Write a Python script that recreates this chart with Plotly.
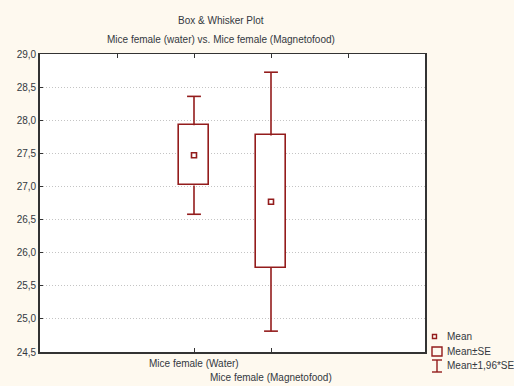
import plotly.graph_objects as go

# ---- data ----
groups = ["Mice female (Water)", "Mice female (Magnetofood)"]
group_pos = [2, 3]
means = [27.47, 26.77]
se = [0.455, 1.0]
ci = [0.89, 1.955]  # 1.96*SE

y_ticks = [24.5, 25.0, 25.5, 26.0, 26.5, 27.0, 27.5, 28.0, 28.5, 29.0]
y_tick_labels = ["24,5", "25,0", "25,5", "26,0", "26,5", "27,0", "27,5", "28,0", "28,5", "29,0"]
legend_labels = ["Mean", "Mean±SE", "Mean±1,96*SE"]

RED = "#931c1c"
BOX_W = 0.39
CAP_W = 0.18
FONT = "Liberation Sans, Arial, sans-serif"
TXT = "#333840"
FS = 10

# plot-area pixel geometry (for paper coordinate helpers)
L, R, T, B = 40, 425, 54, 352


def px(x):
    return (x - L) / (R - L)


def py(y):
    return (B - y) / (B - T)


fig = go.Figure()

# boxes: mean +/- SE
fig.add_trace(go.Bar(
    x=group_pos, y=[2 * s for s in se], base=[m - s for m, s in zip(means, se)],
    width=BOX_W, marker=dict(color="white", line=dict(color=RED, width=1.6)),
    showlegend=False, hoverinfo="skip"))

# whiskers: mean +/- 1.96*SE with caps
wx, wy = [], []
for p, m, s, c in zip(group_pos, means, se, ci):
    wx += [p, p, None, p - CAP_W / 2, p + CAP_W / 2, None,
           p, p, None, p - CAP_W / 2, p + CAP_W / 2, None]
    wy += [m + s, m + c, None, m + c, m + c, None,
           m - s, m - c, None, m - c, m - c, None]
fig.add_trace(go.Scatter(x=wx, y=wy, mode="lines", line=dict(color=RED, width=1.6),
                         showlegend=False, hoverinfo="skip"))

# means
fig.add_trace(go.Scatter(x=group_pos, y=means, mode="markers",
                         marker=dict(symbol="square-open", size=5, color=RED,
                                     line=dict(width=1.6, color=RED)),
                         showlegend=False))

# top axis helper (ticks only)
fig.add_trace(go.Scatter(x=[None], y=[None], xaxis="x2", showlegend=False))

# ---- manual legend (paper coords) ----
shapes = []
lx0, lx1 = px(432), px(442)
shapes.append(dict(type="rect", xref="paper", yref="paper", x0=px(432.5), x1=px(436.5),
                   y0=py(338.5), y1=py(334.5), line=dict(color=RED, width=1.4)))
shapes.append(dict(type="rect", xref="paper", yref="paper", x0=lx0, x1=lx1,
                   y0=py(356), y1=py(347), line=dict(color=RED, width=1.4)))
shapes += [
    dict(type="line", xref="paper", yref="paper", x0=px(437), x1=px(437), y0=py(360), y1=py(372),
         line=dict(color=RED, width=1.4)),
    dict(type="line", xref="paper", yref="paper", x0=lx0, x1=lx1, y0=py(360), y1=py(360),
         line=dict(color=RED, width=1.4)),
    dict(type="line", xref="paper", yref="paper", x0=lx0, x1=lx1, y0=py(372), y1=py(372),
         line=dict(color=RED, width=1.4)),
]

annotations = [
    dict(text="Box &amp; Whisker Plot", xref="paper", yref="paper", x=px(221), y=py(20),
         showarrow=False, xanchor="center", yanchor="middle", font=dict(size=FS)),
    dict(text="Mice female (water) vs. Mice female (Magnetofood)", xref="paper", yref="paper",
         x=px(221), y=py(40), showarrow=False, xanchor="center", yanchor="middle", font=dict(size=FS)),
    dict(text=groups[0], xref="x", yref="paper", x=group_pos[0], y=py(363),
         showarrow=False, xanchor="center", yanchor="middle", font=dict(size=FS)),
    dict(text=groups[1], xref="x", yref="paper", x=group_pos[1], y=py(377),
         showarrow=False, xanchor="center", yanchor="middle", font=dict(size=FS)),
]
for lab, yy in zip(legend_labels, [336, 351.5, 365.5]):
    annotations.append(dict(text=lab, xref="paper", yref="paper", x=px(445), y=py(yy),
                            showarrow=False, xanchor="left", yanchor="middle",
                            font=dict(size=FS)))

fig.update_layout(
    width=514, height=386,
    margin=dict(l=L, r=514 - R, t=T, b=386 - B),
    paper_bgcolor="#fef9ef", plot_bgcolor="white",
    font=dict(family=FONT, size=FS, color=TXT),
    bargap=0, showlegend=False,
    xaxis=dict(range=[0, 5], tickvals=group_pos, showticklabels=False,
               ticks="inside", ticklen=4, tickcolor="#333", showgrid=False, automargin=False,
               zeroline=False, showline=True, linecolor="#333", linewidth=1.6, mirror=False),
    xaxis2=dict(range=[0, 5], overlaying="x", side="top", tickvals=[1, 2, 3, 4],
                showticklabels=False, ticks="inside", ticklen=4, tickcolor="#333", automargin=False,
                showgrid=False, zeroline=False, showline=True, linecolor="#333", linewidth=1.4),
    yaxis=dict(range=[24.5, 29.0], tickvals=y_ticks, ticktext=y_tick_labels,
               ticks="inside", ticklen=3, tickcolor="#333", automargin=False,
               showgrid=True, gridcolor="#c4c4c4", griddash="1px,2px", gridwidth=1,
               zeroline=False, showline=True, linecolor="#333", linewidth=1.6, mirror=True,
               tickfont=dict(size=FS)),
    shapes=shapes,
    annotations=annotations,
)

fig.write_html("out.html")
